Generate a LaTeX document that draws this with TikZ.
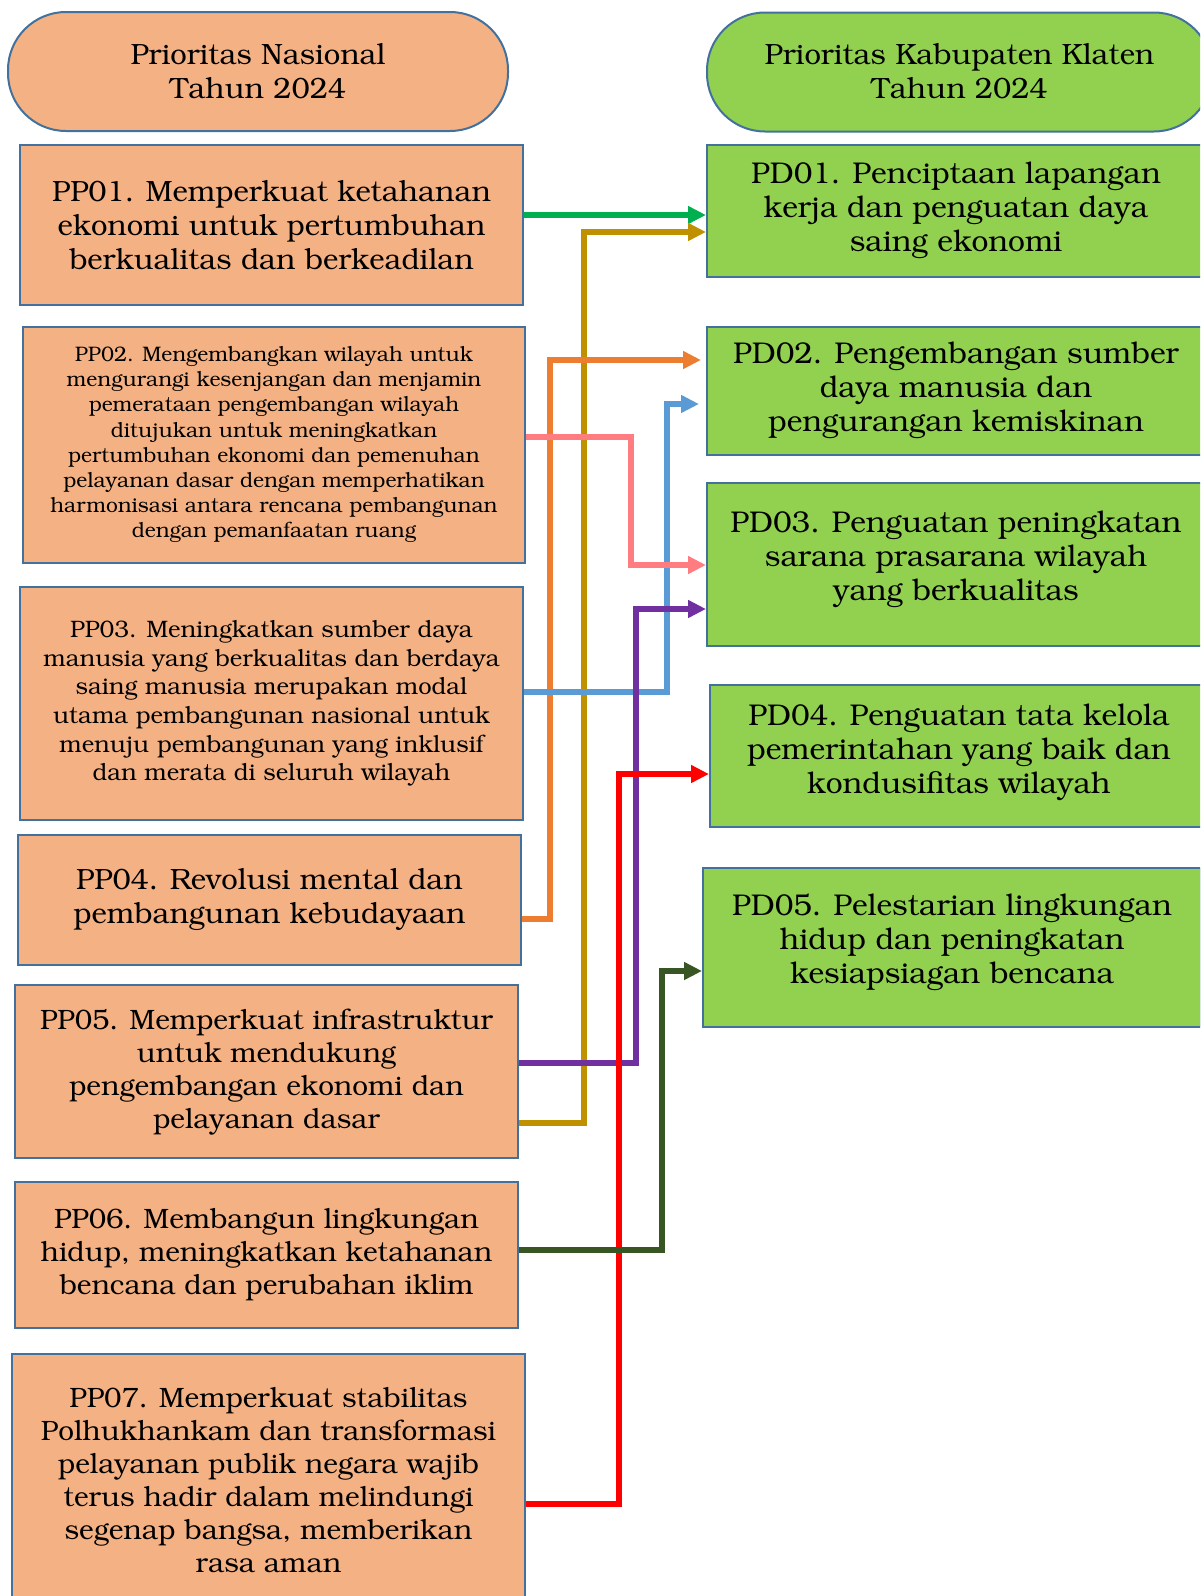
\documentclass[tikz,border=0pt]{standalone}
\usepackage[T1]{fontenc}
\usepackage{bookman}
\usetikzlibrary{arrows.meta}

\definecolor{ppfill}{HTML}{F4B183}
\definecolor{pdfill}{HTML}{92D050}
\definecolor{boxline}{HTML}{41719C}
\definecolor{lgreen}{HTML}{00B050}
\definecolor{lgold}{HTML}{BF9000}
\definecolor{lorange}{HTML}{ED7D31}
\definecolor{lblue}{HTML}{5B9BD5}
\definecolor{lpink}{HTML}{FF7C80}
\definecolor{lpurple}{HTML}{7030A0}
\definecolor{lred}{HTML}{FF0000}
\definecolor{ldgreen}{HTML}{375623}

\begin{document}
\begin{tikzpicture}[x=1pt, y=-1pt,
    box/.style={draw=boxline, line width=2pt, rectangle, align=center, inner sep=0pt, font=\fontsize{29.3}{34}\selectfont},
    pp/.style={box, fill=ppfill},
    ppnarrow/.style={pp, font=\fontsize{28}{33}\selectfont},
    pd/.style={box, fill=pdfill, font=\fontsize{30}{34}\selectfont},
    header/.style={box, rounded corners=58pt, minimum width=#1, minimum height=119pt},
    flow/.style={-{Triangle[length=18pt,width=17pt]}, line width=5.5pt}]

    \useasboundingbox (0,0) rectangle (1200,1596);
    \clip (0,0) rectangle (1200,1596);

    % Define the two headers
    \node[header=500pt, fill=ppfill] (hnas) at (258,71.5) {Prioritas Nasional\\Tahun 2024};
    \node[header=505pt, fill=pdfill] (hkab) at (959.5,72) {Prioritas Kabupaten Klaten\\Tahun 2024};

    % Define the national priorities
    \node[pp, minimum width=503pt, minimum height=160pt] (pp01) at (271.5,225)
        {PP01. Memperkuat ketahanan\\ekonomi untuk pertumbuhan\\berkualitas dan berkeadilan};
    \node[pp, minimum width=502pt, minimum height=236pt, font=\fontsize{21}{25.2}\selectfont] (pp02) at (274,445)
        {PP02. Mengembangkan wilayah untuk\\mengurangi kesenjangan dan menjamin\\pemerataan pengembangan wilayah\\ditujukan untuk meningkatkan\\pertumbuhan ekonomi dan pemenuhan\\pelayanan dasar dengan memperhatikan\\harmonisasi antara rencana pembangunan\\dengan pemanfaatan ruang};
    \node[pp, minimum width=503pt, minimum height=233pt, font=\fontsize{23.8}{28.6}\selectfont] (pp03) at (271.5,703.5)
        {PP03. Meningkatkan sumber daya\\manusia yang berkualitas dan berdaya\\saing manusia merupakan modal\\utama pembangunan nasional untuk\\menuju pembangunan yang inklusif\\dan merata di seluruh wilayah};
    \node[pp, minimum width=503pt, minimum height=130pt] (pp04) at (269.5,900)
        {PP04. Revolusi mental dan\\pembangunan kebudayaan};
    \node[ppnarrow, minimum width=503pt, minimum height=173pt] (pp05) at (266.5,1071.5)
        {PP05. Memperkuat infrastruktur\\untuk mendukung\\pengembangan ekonomi dan\\pelayanan dasar};
    \node[ppnarrow, minimum width=503pt, minimum height=146pt] (pp06) at (266.5,1255)
        {PP06. Membangun lingkungan\\hidup, meningkatkan ketahanan\\bencana dan perubahan iklim};
    \node[ppnarrow, minimum width=513pt, minimum height=252pt] (pp07) at (268.5,1480)
        {PP07. Memperkuat stabilitas\\Polhukhankam dan transformasi\\pelayanan publik negara wajib\\terus hadir dalam melindungi\\segenap bangsa, memberikan\\rasa aman};

    % Define the regional priorities
    \node[pd, minimum width=498pt, minimum height=132pt] (pd01) at (956,211)
        {PD01. Penciptaan lapangan\\kerja dan penguatan daya\\saing ekonomi};
    \node[pd, minimum width=498pt, minimum height=128pt] (pd02) at (956,391)
        {PD02. Pengembangan sumber\\daya manusia dan\\pengurangan kemiskinan};
    \node[pd, minimum width=498pt, minimum height=163pt] (pd03) at (956,564.5)
        {PD03. Penguatan peningkatan\\sarana prasarana wilayah\\yang berkualitas\vspace*{10pt}};
    \node[pd, minimum width=498pt, minimum height=142pt] (pd04) at (959,756)
        {PD04. Penguatan tata kelola\\pemerintahan yang baik dan\\kondusifitas wilayah\vspace*{8pt}};
    \node[pd, minimum width=498pt, minimum height=159pt] (pd05) at (952,947.5)
        {PD05. Pelestarian lingkungan\\hidup dan peningkatan\\kesiapsiagan bencana\vspace*{10pt}};

    % Connect national to regional priorities
    \draw[flow, lgreen] (pp01.east |- 0,215) -- (pd01.west |- 0,215);
    \draw[flow, lgold] (pp05.east |- 0,1123) -| (584,232) -- (pd01.west |- 0,232);
    \draw[flow, lorange] (pp04.east |- 0,919) -| (550,360) -- ([xshift=-5pt]pd02.west |- 0,360);
    \draw[flow, lblue] (pp03.east |- 0,692) -| (667,404) -- ([xshift=-7pt]pd02.west |- 0,404);
    \draw[flow, lpink] (pp02.east |- 0,437) -| (631,565) -- (pd03.west |- 0,565);
    \draw[flow, lpurple] (pp05.east |- 0,1063) -| (636,609) -- (pd03.west |- 0,609);
    \draw[flow, lred] (pp07.east |- 0,1504) -| (619,774) -- (pd04.west |- 0,774);
    \draw[flow, ldgreen] (pp06.east |- 0,1250) -| (662,971) -- (pd05.west |- 0,971);
\end{tikzpicture}
\end{document}
